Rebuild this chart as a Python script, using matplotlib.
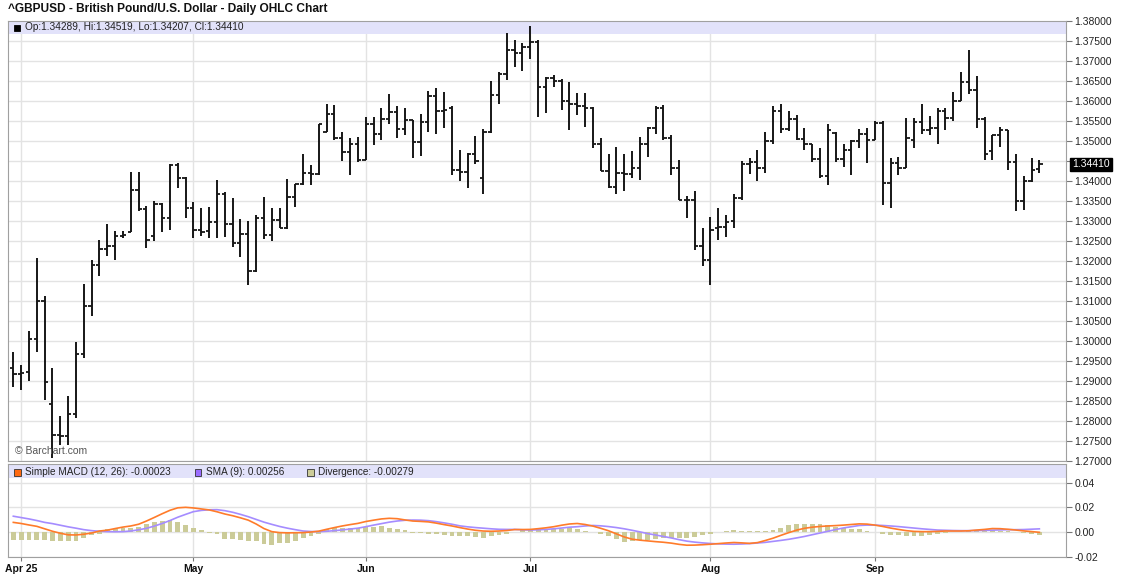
import matplotlib
matplotlib.use("Agg")
import matplotlib.pyplot as plt
import matplotlib.patches as mpatches
import matplotlib.transforms as mtransforms
from matplotlib.ticker import FormatStrFormatter, FuncFormatter
import numpy as np
import pandas as pd

plt.rcParams['font.family'] = ['Liberation Sans', 'DejaVu Sans']

# trading days, Mar 31 2025 .. Sep 30 2025
dates = pd.bdate_range('2025-03-31', '2025-09-30')

opens = [
    1.2931, 1.2916, 1.2921, 1.3004, 1.3099, 1.2842, 1.2765, 1.2762, 1.2818, 1.2968,
    1.3088, 1.3189, 1.3229, 1.3238, 1.3263, 1.3272, 1.3378, 1.3329, 1.3262, 1.3341,
    1.3308, 1.3440, 1.3408, 1.3331, 1.3278, 1.3274, 1.3297, 1.3368, 1.3292, 1.3245,
    1.3266, 1.3174, 1.3306, 1.3265, 1.3302, 1.3282, 1.3360, 1.3392, 1.3420, 1.3416,
    1.3522, 1.3566, 1.3508, 1.3473, 1.3491, 1.3452, 1.3543, 1.3518, 1.3554, 1.3572,
    1.3529, 1.3552, 1.3498, 1.3548, 1.3612, 1.3575, 1.3581, 1.3427, 1.3422, 1.3468,
    1.3406, 1.3522, 1.3614, 1.3667, 1.3727, 1.3720, 1.3735, 1.3746, 1.3635, 1.3656,
    1.3649, 1.3600, 1.3593, 1.3587, 1.3583, 1.3492, 1.3425, 1.3385, 1.3420, 1.3417,
    1.3433, 1.3492, 1.3532, 1.3581, 1.3506, 1.3433, 1.3353, 1.3352, 1.3237, 1.3203,
    1.3283, 1.3285, 1.3300, 1.3356, 1.3443, 1.3447, 1.3433, 1.3500, 1.3575, 1.3529,
    1.3554, 1.3504, 1.3492, 1.3454, 1.3413, 1.3520, 1.3454, 1.3477, 1.3499, 1.3516,
    1.3503, 1.3545, 1.3395, 1.3445, 1.3433, 1.3503, 1.3548, 1.3527, 1.3531, 1.3574,
    1.3558, 1.3599, 1.3647, 1.3627, 1.3554, 1.3474, 1.3514, 1.3527, 1.3448, 1.3350,
    1.3399, 1.34289,
]
highs = [
    1.2971, 1.2939, 1.3024, 1.3206, 1.3113, 1.2931, 1.2813, 1.2863, 1.2996, 1.3143,
    1.3202, 1.3252, 1.3292, 1.3274, 1.3275, 1.3423, 1.3423, 1.3338, 1.3349, 1.3345,
    1.3443, 1.3445, 1.3410, 1.3346, 1.3331, 1.3335, 1.3402, 1.3372, 1.3356, 1.3304,
    1.3300, 1.3314, 1.3360, 1.3333, 1.3333, 1.3404, 1.3393, 1.3468, 1.3439, 1.3541,
    1.3592, 1.3589, 1.3521, 1.3506, 1.3510, 1.3560, 1.3560, 1.3581, 1.3618, 1.3587,
    1.3581, 1.3553, 1.3568, 1.3625, 1.3633, 1.3622, 1.3587, 1.3478, 1.3470, 1.3512,
    1.3530, 1.3649, 1.3673, 1.3770, 1.3752, 1.3745, 1.3788, 1.3752, 1.3660, 1.3665,
    1.3655, 1.3647, 1.3620, 1.3620, 1.3585, 1.3506, 1.3467, 1.3485, 1.3467, 1.3475,
    1.3510, 1.3535, 1.3587, 1.3589, 1.3514, 1.3452, 1.3362, 1.3375, 1.3281, 1.3310,
    1.3331, 1.3314, 1.3367, 1.3450, 1.3458, 1.3477, 1.3522, 1.3587, 1.3593, 1.3575,
    1.3564, 1.3532, 1.3493, 1.3481, 1.3543, 1.3522, 1.3493, 1.3502, 1.3529, 1.3531,
    1.3550, 1.3550, 1.3458, 1.3460, 1.3556, 1.3556, 1.3591, 1.3562, 1.3583, 1.3581,
    1.3621, 1.3672, 1.3728, 1.3662, 1.3560, 1.3514, 1.3535, 1.3528, 1.3468, 1.3412,
    1.3456, 1.34519,
]
lows = [
    1.2885, 1.2878, 1.2899, 1.2973, 1.2852, 1.2706, 1.2740, 1.2739, 1.2806, 1.2958,
    1.3063, 1.3163, 1.3212, 1.3202, 1.3258, 1.3272, 1.3325, 1.3233, 1.3250, 1.3273,
    1.3278, 1.3381, 1.3308, 1.3258, 1.3262, 1.3258, 1.3258, 1.3260, 1.3235, 1.3210,
    1.3139, 1.3172, 1.3255, 1.3250, 1.3281, 1.3280, 1.3335, 1.3389, 1.3389, 1.3414,
    1.3522, 1.3502, 1.3449, 1.3414, 1.3448, 1.3452, 1.3489, 1.3502, 1.3542, 1.3506,
    1.3514, 1.3456, 1.3462, 1.3523, 1.3516, 1.3531, 1.3414, 1.3400, 1.3383, 1.3442,
    1.3368, 1.3520, 1.3593, 1.3653, 1.3685, 1.3675, 1.3704, 1.3560, 1.3570, 1.3635,
    1.3577, 1.3527, 1.3564, 1.3535, 1.3483, 1.3425, 1.3381, 1.3367, 1.3375, 1.3408,
    1.3402, 1.3460, 1.3516, 1.3503, 1.3414, 1.3352, 1.3308, 1.3227, 1.3187, 1.3139,
    1.3252, 1.3260, 1.3281, 1.3352, 1.3418, 1.3400, 1.3420, 1.3493, 1.3520, 1.3524,
    1.3502, 1.3477, 1.3448, 1.3406, 1.3389, 1.3447, 1.3435, 1.3414, 1.3481, 1.3445,
    1.3502, 1.3339, 1.3333, 1.3414, 1.3431, 1.3481, 1.3518, 1.3514, 1.3493, 1.3527,
    1.3549, 1.3599, 1.3618, 1.3533, 1.3452, 1.3452, 1.3485, 1.3427, 1.3325, 1.3327,
    1.3396, 1.34207,
]
closes = [
    1.2916, 1.2920, 1.3004, 1.3099, 1.2898, 1.2765, 1.2762, 1.2818, 1.2968, 1.3088,
    1.3189, 1.3229, 1.3238, 1.3263, 1.3265, 1.3378, 1.3329, 1.3253, 1.3341, 1.3308,
    1.3440, 1.3408, 1.3331, 1.3278, 1.3272, 1.3297, 1.3368, 1.3292, 1.3245, 1.3266,
    1.3174, 1.3306, 1.3265, 1.3302, 1.3282, 1.3360, 1.3392, 1.3420, 1.3416, 1.3541,
    1.3566, 1.3508, 1.3473, 1.3491, 1.3452, 1.3543, 1.3518, 1.3554, 1.3572, 1.3529,
    1.3552, 1.3498, 1.3548, 1.3612, 1.3575, 1.3577, 1.3427, 1.3422, 1.3468, 1.3449,
    1.3522, 1.3614, 1.3667, 1.3727, 1.3720, 1.3735, 1.3746, 1.3635, 1.3656, 1.3649,
    1.3600, 1.3593, 1.3587, 1.3583, 1.3492, 1.3425, 1.3385, 1.3420, 1.3417, 1.3433,
    1.3492, 1.3532, 1.3581, 1.3506, 1.3433, 1.3353, 1.3352, 1.3237, 1.3203, 1.3278,
    1.3285, 1.3297, 1.3356, 1.3443, 1.3447, 1.3433, 1.3500, 1.3575, 1.3529, 1.3554,
    1.3504, 1.3492, 1.3454, 1.3413, 1.3528, 1.3454, 1.3477, 1.3499, 1.3516, 1.3503,
    1.3545, 1.3395, 1.3445, 1.3433, 1.3508, 1.3548, 1.3527, 1.3531, 1.3574, 1.3558,
    1.3599, 1.3647, 1.3627, 1.3554, 1.3468, 1.3514, 1.3527, 1.3448, 1.3350, 1.3399,
    1.3427, 1.34410,
]

# indicator values, in thousandths
macd_milli = [
    7.8, 6.9, 5.7, 4.6, 2.6, 0.6, -1.0, -2.3, -2.4, -1.8,
    -0.8, 0.8, 1.5, 2.8, 4.0, 4.9, 6.3, 8.9, 11.8, 14.8,
    17.6, 19.6, 20.0, 19.5, 18.7, 17.9, 16.4, 14.6, 13.2, 11.5,
    9.6, 6.5, 2.8, 0.3, -0.5, -0.7, -0.6, -0.5, 0.0, 0.7,
    2.2, 3.6, 4.9, 6.0, 7.0, 8.5, 9.6, 10.6, 11.1, 10.8,
    9.8, 8.9, 8.6, 8.2, 7.2, 6.0, 4.9, 3.6, 2.4, 1.4,
    0.8, 0.6, 0.8, 1.2, 2.0, 2.0, 2.1, 2.7, 3.4, 4.3,
    5.5, 6.5, 6.9, 6.1, 4.8, 3.0, 1.0, -1.5, -4.0, -5.8,
    -6.6, -7.2, -7.8, -8.3, -9.0, -10.0, -10.7, -10.6, -10.3, -9.9,
    -9.4, -8.9, -8.5, -8.8, -9.2, -8.6, -6.9, -5.0, -2.7, -0.5,
    1.5, 3.0, 3.9, 4.5, 4.9, 5.2, 5.6, 6.1, 6.6, 6.4,
    5.6, 4.5, 3.2, 2.1, 1.1, 0.5, 0.3, 0.3, 0.5, 0.8,
    0.8, 0.8, 1.0, 1.6, 2.1, 2.8, 2.7, 2.2, 1.6, 0.9,
    0.3, -0.23,
]
sma9_milli = [
    12.8, 11.7, 10.6, 9.3, 7.8, 6.8, 5.5, 4.2, 3.1, 1.9,
    1.1, 0.6, 0.3, 0.2, 0.3, 0.8, 1.8, 3.0, 4.8, 6.9,
    9.3, 12.0, 14.3, 16.5, 17.5, 18.0, 18.1, 17.3, 16.0, 14.3,
    12.4, 10.2, 8.0, 6.2, 4.5, 3.1, 1.9, 0.8, 0.4, 0.3,
    0.6, 1.1, 1.7, 2.4, 3.1, 4.3, 5.6, 6.8, 8.0, 8.9,
    9.5, 9.7, 9.6, 9.2, 8.4, 7.4, 6.3, 5.0, 4.2, 3.6,
    3.1, 2.6, 2.2, 2.1, 2.1, 1.8, 1.6, 1.8, 2.1, 2.6,
    3.2, 3.9, 4.3, 4.9, 5.3, 5.0, 4.4, 3.6, 2.6, 1.4,
    0.1, -1.3, -2.4, -3.6, -4.8, -6.2, -7.4, -8.2, -8.8, -9.3,
    -9.6, -9.8, -9.9, -9.7, -9.4, -8.9, -8.4, -7.6, -6.8, -5.9,
    -4.8, -3.6, -2.2, -0.8, 0.6, 2.0, 3.3, 4.3, 5.3, 5.6,
    5.6, 5.3, 4.9, 4.4, 3.8, 3.2, 2.6, 2.1, 1.6, 1.4,
    1.2, 1.1, 1.1, 1.2, 1.3, 1.5, 1.7, 1.9, 1.9, 2.0,
    2.3, 2.56,
]
divergence_milli = [
    -6.1, -6.1, -6.1, -6.1, -6.5, -7.5, -7.5, -7.5, -7.0, -5.0,
    -2.5, -1.4, 2.2, 2.8, 3.6, 3.6, 4.2, 6.4, 8.1, 9.2,
    9.7, 8.3, 5.8, 3.6, 1.4, -0.6, -1.9, -5.3, -5.3, -6.4,
    -6.9, -7.5, -9.7, -10.3, -9.2, -8.6, -6.9, -4.7, -3.3, -1.4,
    2.2, 3.1, 3.6, 3.6, 3.6, 4.2, 4.4, 5.0, 3.6, 2.2,
    1.4, -0.5, -1.1, -1.4, -1.9, -2.5, -3.3, -3.6, -3.6, -4.2,
    -4.7, -3.6, -2.5, -1.4, -0.3, 1.4, 1.3, 1.6, 1.6, 2.1,
    2.7, 3.5, 2.1, 0.8, 0.0, -1.9, -3.2, -5.9, -7.7, -7.2,
    -6.7, -6.1, -5.6, -5.1, -4.5, -5.1, -5.1, -4.0, -2.4, -1.3,
    0.3, 0.5, 1.3, 0.8, 0.5, 0.5, 0.8, 1.9, 3.5, 5.3,
    6.1, 6.7, 6.7, 6.1, 5.3, 4.0, 3.5, 2.7, 2.1, 0.8,
    0.0, -1.3, -2.1, -2.4, -3.2, -3.2, -2.9, -2.4, -1.9, -1.1,
    -0.3, 0.3, 0.5, 0.8, 1.1, 1.3, 1.1, 0.8, 0.0, -1.1,
    -1.9, -2.79,
]

title = '^GBPUSD - British Pound/U.S. Dollar - Daily OHLC Chart'
price_legend = 'Op:1.34289, Hi:1.34519, Lo:1.34207, Cl:1.34410'
macd_legend = ['Simple MACD (12, 26): -0.00023', 'SMA (9): 0.00256', 'Divergence: -0.00279']
month_labels = ['Apr 25', 'May', 'Jun', 'Jul', 'Aug', 'Sep']
price_ticks = np.arange(1.27, 1.38001, 0.005)
macd_ticks = [-0.02, 0.0, 0.02, 0.04]

W, H = 1144, 578
BAND = '#e2e2fa'
GRID = '#e3e3e3'
EDGE = '#a0a0a0'


def box(left, top, right, bottom):
    return [left / W, 1 - bottom / H, (right - left) / W, (bottom - top) / H]


def price_label(v, pos):
    # the last-price box sits on top of the nearest tick label
    if abs(v - closes[-1]) < 0.0025:
        return ''
    return '%.5f' % v


fig = plt.figure(figsize=(W / 100, H / 100), dpi=100)
ax = fig.add_axes(box(8, 20.5, 1066, 460.7))
mx = fig.add_axes(box(8, 464, 1066, 556.7))

x = np.arange(len(dates))
month_idx = [int(np.argmax(dates.month == m)) for m in range(4, 10)]
macd = np.array(macd_milli) / 1000
sma9 = np.array(sma9_milli) / 1000
divergence = np.array(divergence_milli) / 1000

# price panel: OHLC bars
bar_col = '#161616'
ax.vlines(x, lows, highs, color=bar_col, lw=1.4, zorder=3)
ax.hlines(opens, x - 0.42, x, color=bar_col, lw=1.3, zorder=3)
ax.hlines(closes, x, x + 0.42, color=bar_col, lw=1.3, zorder=3)

ax.set_xlim(-0.68, 134.4)
ax.set_ylim(1.27, 1.3801)
ax.set_yticks(price_ticks)
ax.yaxis.set_major_formatter(FuncFormatter(price_label))
ax.yaxis.tick_right()
ax.set_xticks(month_idx)
ax.tick_params(axis='x', length=0, labelbottom=False)
ax.tick_params(axis='y', length=4, color='#777777', labelsize=7.5, pad=2, labelcolor='#222222')
ax.grid(True, color=GRID, lw=1, zorder=0)
ax.set_axisbelow(True)
for s in ax.spines.values():
    s.set_color(EDGE)

ax.add_patch(mpatches.Rectangle((0, 1 - 13.5 / 440), 1, 13.5 / 440, transform=ax.transAxes,
                                facecolor=BAND, edgecolor='none', zorder=1))
fig.add_artist(mpatches.Rectangle((14 / W, 1 - 31 / H), 6 / W, 6 / H, transform=fig.transFigure,
                                  facecolor='black', edgecolor='black', lw=0.6))
fig.text(25 / W, 1 - 27.5 / H, price_legend, fontsize=7.3, va='center', color='#222222')
ax.text(0.007, 0.022, '\u00a9 Barchart.com', transform=ax.transAxes, fontsize=7.5,
        color='#555555', va='center', zorder=4)

# last price marker on the axis
trans = mtransforms.blended_transform_factory(ax.transAxes, ax.transData)
ax.text(1.0 + 6 / 1058, closes[-1], '%.5f' % closes[-1], transform=trans, fontsize=7.5,
        color='white', va='center', ha='left', zorder=6, clip_on=False,
        bbox=dict(boxstyle='square,pad=0.18', facecolor='black', edgecolor='black'))

fig.text(8 / W, 1 - 9 / H, title, fontsize=8.6, fontweight='bold', va='center', color='#111111')

# MACD panel
mx.bar(x, divergence, width=0.62, color='#cbcb98', zorder=2)
mx.plot(x, sma9, color='#a58cff', lw=1.2, zorder=3)
mx.plot(x, macd, color='#ff7b2a', lw=1.2, zorder=4)
mx.set_xlim(-0.68, 134.4)
mx.set_ylim(-0.02, 0.0551)
mx.set_yticks(macd_ticks)
mx.yaxis.set_major_formatter(FormatStrFormatter('%.2f'))
mx.yaxis.tick_right()
mx.set_xticks(month_idx)
mx.set_xticklabels(month_labels, fontweight='bold', fontsize=7.5)
mx.tick_params(axis='x', length=3, color='#777777', pad=2, labelcolor='#111111')
mx.tick_params(axis='y', length=4, color='#777777', labelsize=7.5, pad=2, labelcolor='#222222')
mx.grid(True, color=GRID, lw=1, zorder=0)
mx.set_axisbelow(True)
for s in mx.spines.values():
    s.set_color(EDGE)

mx.add_patch(mpatches.Rectangle((0, 1 - 14 / 92.7), 1, 14 / 92.7, transform=mx.transAxes,
                                facecolor=BAND, edgecolor='none', zorder=1))
legend_cols = ['#ff6a13', '#9a6cff', '#cccc99']
legend_x = [14, 195, 307]
for label, col, lx in zip(macd_legend, legend_cols, legend_x):
    fig.add_artist(mpatches.Rectangle((lx / W, 1 - 475.5 / H), 6.5 / W, 6.5 / H,
                                      transform=fig.transFigure, facecolor=col,
                                      edgecolor='#333333', lw=0.6))
    fig.text((lx + 11) / W, 1 - 472 / H, label, fontsize=7.2, va='center', color='#222222')

fig.savefig('out.png', dpi=100)
